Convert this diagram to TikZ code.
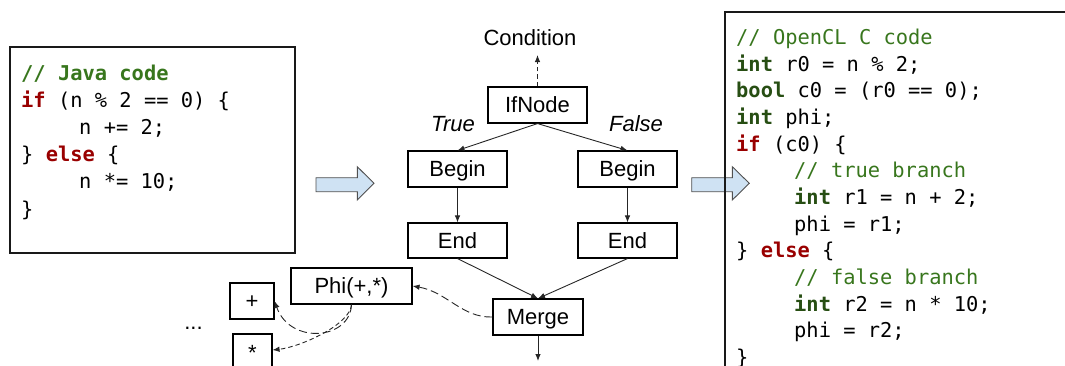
\documentclass[tikz,border=0pt]{standalone}
\usepackage{fontspec}
\setmainfont{Liberation Sans}
\newfontfamily\codefont{DejaVu Sans Mono}
\usetikzlibrary{arrows.meta}
\definecolor{cmtgreen}{HTML}{38761D}
\definecolor{typegreen}{HTML}{274E13}
\definecolor{kwred}{HTML}{990000}
\definecolor{blockfill}{HTML}{CFE2F3}
\definecolor{blockline}{HTML}{505050}
\newcommand\kwr[1]{{\bfseries\color{kwred}#1}}
\newcommand\kwg[1]{{\bfseries\color{typegreen}#1}}
\newcommand\cmt[1]{{\color{cmtgreen}#1}}
\begin{document}
\begin{tikzpicture}[x=1pt,y=-1pt,
  labelfont/.style={font=\fontsize{22}{26}\selectfont},
  stepbox/.style={draw=black, line width=1.1pt, inner sep=0pt, labelfont,
    text height=15.75pt, text depth=0pt, minimum height=36pt},
  codeline/.style={anchor=base west, inner sep=0pt,
    font=\codefont\fontsize{20.4}{24}\selectfont},
  codebox/.style={draw=black!90, line width=1.2pt},
  blockarrow/.style={draw=blockline, fill=blockfill, line width=0.9pt, line join=miter},
  edge/.style={draw=black!85, line width=0.9pt, -{Latex[length=7pt,width=5.5pt]}},
  longdash/.style={edge, dash pattern=on 8pt off 4pt},
  shortdash/.style={edge, dash pattern=on 4.5pt off 3pt}]
\clip (0,0) rectangle (1065,365);

% Java source
\draw[codebox] (10,47) rectangle (295,253);
\node[codeline] (j1) at (21,80.7) {\cmt{\bfseries // Java code}};
\node[codeline] (j2) at (21,107.8) {\kwr{if} (n \% 2 == 0) \{};
\node[codeline] (j3) at (79,134.8) {n += 2;};
\node[codeline] (j4) at (21,161.9) {\} \kwr{else} \{};
\node[codeline] (j5) at (79,188.9) {n *= 10;};
\node[codeline] (j6) at (21,216) {\}};

% translation arrows
\draw[blockarrow] (316,177.7) -- (357.3,177.7) -- (357.3,166.7) -- (374,183.3)
  -- (357.3,200) -- (357.3,191.7) -- (316,191.7) -- cycle;
\draw[blockarrow] (691.7,177.7) -- (732.3,177.7) -- (732.3,166.7) -- (749.3,183.3)
  -- (732.3,200) -- (732.3,191.7) -- (691.7,191.7) -- cycle;

% OpenCL output
\draw[codebox] (1070,12) -- (725,12) -- (725,370);
\node[codeline] (c1) at (736,44.3) {\cmt{// OpenCL C code}};
\node[codeline] (c2) at (736,71) {\kwg{int} r0 = n \% 2;};
\node[codeline] (c3) at (736,97.7) {\kwg{bool} c0 = (r0 == 0);};
\node[codeline] (c4) at (736,124.3) {\kwg{int} phi;};
\node[codeline] (c5) at (736,151) {\kwr{if} (c0) \{};
\node[codeline] (c6) at (794,177.7) {\cmt{// true branch}};
\node[codeline] (c7) at (794,204.3) {\kwg{int} r1 = n + 2;};
\node[codeline] (c8) at (794,231) {phi = r1;};
\node[codeline] (c9) at (736,257.7) {\} \kwr{else} \{};
\node[codeline] (c10) at (794,284.3) {\cmt{// false branch}};
\node[codeline] (c11) at (794,311) {\kwg{int} r2 = n * 10;};
\node[codeline] (c12) at (794,337.7) {phi = r2;};
\node[codeline] (c13) at (736,364.3) {\}};

% graph
\node[labelfont, anchor=base, inner sep=0pt] (cond) at (530,45) {Condition};
\node[stepbox, minimum width=99pt] (ifnode) at (537.5,105) {IfNode};
\node[labelfont, font=\fontsize{22}{26}\selectfont\itshape, anchor=base, inner sep=0pt] (tlabel) at (453,131) {True};
\node[labelfont, font=\fontsize{22}{26}\selectfont\itshape, anchor=base, inner sep=0pt] (flabel) at (636,131) {False};
\node[stepbox, minimum width=99pt] (beginT) at (457.5,169) {Begin};
\node[stepbox, minimum width=99pt] (beginF) at (627.5,169) {Begin};
\node[stepbox, minimum width=99pt, minimum height=35pt] (endT) at (457.5,240.5) {End};
\node[stepbox, minimum width=99pt, minimum height=35pt] (endF) at (627.5,240.5) {End};
\node[stepbox, minimum width=90pt] (merge) at (538,317) {Merge};
\node[stepbox, minimum width=121pt] (phi) at (351.5,286) {Phi(+,*)};
\node[stepbox, minimum width=44pt] (plus) at (252,301) {+};
\node[stepbox, minimum width=39pt, minimum height=38pt] (star) at (252.5,353) {*};
\node[labelfont, anchor=base, inner sep=0pt] (dots) at (193.5,329.5) {...};

\coordinate (condtip) at (537.5,55);
\coordinate (mergeout) at (538,361);

\draw[shortdash] (ifnode.north) -- (condtip);
\draw[edge] (ifnode.south) -- (beginT.north);
\draw[edge] (ifnode.south) -- (beginF.north);
\draw[edge] (beginT) -- (endT);
\draw[edge] (beginF) -- (endF);
\draw[edge] (endT.south) -- (merge.north);
\draw[edge] (endF.south) -- (merge.north);
\draw[edge] (merge.south) -- (mergeout);
\draw[longdash] (merge.west) .. controls (462,318) and (447,292) .. (phi.east);
\draw[longdash] (phi.south) .. controls (350,340) and (290,345) .. (plus.east);
\draw[shortdash] (phi.south) .. controls (350,325) and (300,347) .. ([yshift=3pt]star.east);
\end{tikzpicture}
\end{document}
